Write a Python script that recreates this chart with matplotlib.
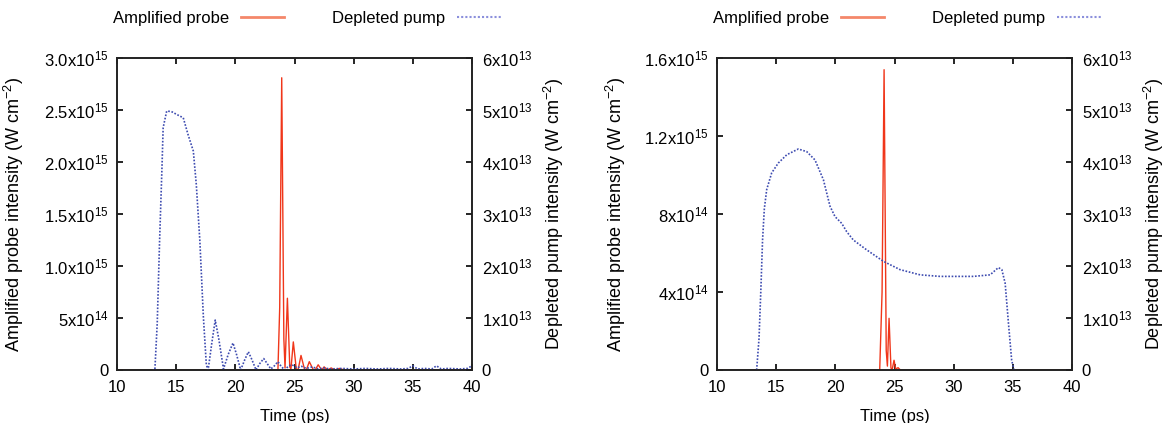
import matplotlib
matplotlib.use("Agg")
import matplotlib.pyplot as plt

plt.rcParams['font.family'] = ['Liberation Sans', 'DejaVu Sans']
plt.rcParams['mathtext.default'] = 'regular'
plt.rcParams['font.size'] = 12

# ---- left panel data ----
probe1_t = [10, 23.6, 23.75, 23.92, 24.1, 24.2, 24.4, 24.6, 24.7, 24.9, 25.15, 25.3,
            25.55, 25.85, 26.0, 26.25, 26.6, 26.75, 27.0, 27.3, 27.5, 27.8, 28.1,
            28.4, 28.8, 29.2, 30, 40]
probe1_v = [0, 0, 0.6, 2.81, 0.3, 0.02, 0.69, 0.03, 0.01, 0.27, 0.01, 0.0,
            0.14, 0.005, 0.0, 0.08, 0.0, 0.0, 0.05, 0, 0.03, 0, 0.02,
            0, 0.015, 0, 0, 0]  # x1e15

pump1_t = [13.0, 13.2, 13.4, 13.6, 13.8, 13.9, 14.2, 14.6, 15.0, 15.6, 16.0, 16.45,
           16.7, 17.0, 17.3, 17.55, 17.7, 18.0, 18.3, 18.6, 19.0, 19.4, 19.8, 20.1,
           20.45, 20.8, 21.1, 21.4, 21.75, 22.05, 22.4, 22.7, 23.0, 23.3, 23.6, 23.9,
           24.2, 24.5, 24.8, 25.2, 25.6, 26.0, 26.5, 27, 27.5, 28, 29, 30, 31, 32, 33,
           34, 34.6, 35.0, 35.4, 36, 36.6, 37.0, 37.4, 38, 39, 39.6, 40]
pump1_v = [0, 0.0, 0.9, 2.49, 3.89, 4.66, 4.98, 4.97, 4.92, 4.85, 4.53, 4.21,
           3.57, 2.49, 1.02, 0.1, 0.0, 0.5, 0.96, 0.6, 0.02, 0.3, 0.52, 0.3,
           0.0, 0.2, 0.35, 0.2, 0.0, 0.12, 0.22, 0.12, 0.02, 0.08, 0.16, 0.06,
           0.0, 0.08, 0.1, 0.04, 0.07, 0.03, 0.06, 0.02, 0.04, 0.02, 0.03, 0.02, 0.03, 0.02, 0.03,
           0.02, 0.03, 0.08, 0.02, 0.03, 0.02, 0.08, 0.02, 0.03, 0.02, 0.03, 0.08]  # x1e13

# ---- right panel data ----
probe2_t = [10, 23.75, 23.95, 24.12, 24.3, 24.4, 24.54, 24.7, 24.8, 24.96, 25.1, 25.3, 25.5, 26, 40]
probe2_v = [0, 0, 0.4, 1.54, 0.1, 0.02, 0.265, 0.01, 0.0, 0.05, 0.005, 0.012, 0.0, 0, 0]  # x1e15

pump2_t = [13.35, 13.55, 13.7, 13.85, 14.0, 14.2, 14.62, 15.18, 15.9, 16.87, 17.58, 18.28, 18.99,
           19.55, 19.97, 20.54, 20.96, 21.52, 22.65, 24.06, 25.47, 27.16, 28.85, 31.67,
           33.08, 33.78, 34.07, 34.35, 34.63, 34.9, 35.1]
pump2_v = [0, 0.6, 1.5, 2.5, 3.1, 3.47, 3.79, 3.98, 4.14, 4.25, 4.2, 4.04, 3.66,
           3.15, 2.95, 2.82, 2.66, 2.5, 2.31, 2.09, 1.93, 1.83, 1.8, 1.8,
           1.83, 1.97, 1.93, 1.67, 0.9, 0.19, 0]  # x1e13

left_ticks1 = [0, 0.5, 1.0, 1.5, 2.0, 2.5, 3.0]
left_labels1 = ['0', r'5x10$^{14}$', r'1.0x10$^{15}$', r'1.5x10$^{15}$',
                r'2.0x10$^{15}$', r'2.5x10$^{15}$', r'3.0x10$^{15}$']
left_ticks2 = [0, 0.4, 0.8, 1.2, 1.6]
left_labels2 = ['0', r'4x10$^{14}$', r'8x10$^{14}$', r'1.2x10$^{15}$', r'1.6x10$^{15}$']
right_ticks = [0, 1, 2, 3, 4, 5, 6]
right_labels = ['0'] + [r'%dx10$^{13}$' % i for i in range(1, 7)]

probe_col = '#f0361a'
pump_col = '#3d4bb0'

fig = plt.figure(figsize=(11.65, 4.23), dpi=100)
W, H = 1165.0, 423.0

# (axes left px, probe t, probe v, pump t, pump v, ticks, labels, ymax, legend x px,
#  left label right edge px, right label left edge px)
panels = [
    (117, probe1_t, probe1_v, pump1_t, pump1_v, left_ticks1, left_labels1, 3.0, 113, 26, 542),
    (717, probe2_t, probe2_v, pump2_t, pump2_v, left_ticks2, left_labels2, 1.6, 713, 628, 1142),
]

for x0, pt, pv, qt, qv, lt, ll, ymax, legx, ylx, y2x in panels:
    ax = fig.add_axes([x0 / W, 1 - 370 / H, 355 / W, 312 / H])
    ax2 = ax.twinx()
    ax.plot(pt, pv, color=probe_col, lw=1.0)
    ax2.plot(qt, qv, color=pump_col, lw=1.2, ls=(0, (1, 1)))
    ax.set_xlim(10, 40)
    ax.set_ylim(0, ymax)
    ax2.set_ylim(0, 6)
    ax.set_xticks([10, 15, 20, 25, 30, 35, 40])
    ax.set_yticks(lt)
    ax.set_yticklabels(ll)
    ax2.set_yticks(right_ticks)
    ax2.set_yticklabels(right_labels)
    ax.tick_params(direction='in', length=4, width=1.2, top=True, pad=6)
    ax.tick_params(axis='x', pad=7)
    ax2.tick_params(direction='in', length=4, width=1.2, pad=7)
    for a in (ax, ax2):
        for s in a.spines.values():
            s.set_linewidth(1.2)
            s.set_color('#222222')
    ax.set_xlabel('Time (ps)')
    ax.xaxis.set_label_coords(0.5, -0.125)
    ax.set_ylabel('Amplified probe intensity (W cm$^{-2}$)', fontsize=13)
    ax2.set_ylabel('Depleted pump intensity (W cm$^{-2}$)', fontsize=13)
    ax.yaxis.set_label_coords((ylx - x0) / 355.0, 0.5)
    ax2.yaxis.set_label_coords((y2x - x0) / 355.0, 0.5)

    h1 = plt.Line2D([], [], color='#f4876a', lw=2)
    h2 = plt.Line2D([], [], color='#8b8fdc', lw=1.5, ls=(0, (1, 1)))
    fig.legend([h1, h2], ['Amplified probe', 'Depleted pump'], ncol=2,
               loc='center left', bbox_to_anchor=(legx / W, 1 - 18 / H),
               frameon=False, markerfirst=False, borderpad=0, borderaxespad=0,
               handlelength=2.6, handletextpad=0.7, columnspacing=2.9)

fig.savefig('out.png', dpi=100)
